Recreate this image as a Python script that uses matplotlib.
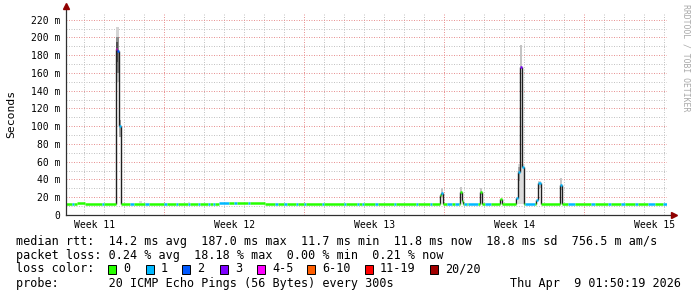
import matplotlib
matplotlib.use("Agg")
from matplotlib import pyplot as plt
from matplotlib.patches import Rectangle

W, H = 697, 297
MONO = "DejaVu Sans Mono"

# x axis: days from left edge of the graph (30 days shown)
x_max = 30.05
week_bounds = [4.9, 11.9, 18.9, 25.9]
day_lines = [0.9, 1.9, 2.9, 3.9, 5.9, 6.9, 7.9, 8.9, 9.9, 10.9, 12.9, 13.9, 14.9,
             15.9, 16.9, 17.9, 19.9, 20.9, 21.9, 22.9, 23.9, 24.9, 26.9, 27.9, 28.9, 29.9]
week_label_pos = [1.45, 8.45, 15.45, 22.45, 29.45]
week_labels = ["Week 11", "Week 12", "Week 13", "Week 14", "Week 15"]

# y axis in ms
y_max = 227.5
y_major = [0, 20, 40, 60, 80, 100, 120, 140, 160, 180, 200, 220]
y_minor = [10, 30, 50, 70, 90, 110, 130, 150, 170, 190, 210]
y_labels = ["0"] + [f"{v} m" for v in y_major[1:]]

# median rtt baseline
base_rtt = 12.3
raised_rtt = 13.3
raised_spans = [(0.55, 0.95), (7.65, 9.95)]
loss1_spans = [(0.30, 0.40), (1.80, 1.90), (3.20, 3.40), (3.95, 4.15), (4.90, 5.05),
               (5.50, 5.60), (6.10, 6.20), (6.60, 6.70), (7.10, 7.20), (7.35, 7.45),
               (7.65, 8.15), (8.40, 8.55), (9.10, 9.20), (10.45, 10.60), (10.90, 11.05),
               (11.50, 11.60), (11.90, 12.00), (12.80, 12.90), (13.90, 14.00), (14.55, 14.65),
               (14.80, 14.90), (15.45, 15.60), (16.40, 16.50), (17.50, 17.60), (18.20, 18.30),
               (19.05, 19.30), (19.45, 19.65), (19.90, 20.05), (20.10, 20.60), (20.95, 21.25),
               (22.95, 23.45), (25.10, 25.45), (26.25, 26.45), (27.10, 27.25), (27.75, 27.95),
               (28.45, 28.60), (29.10, 29.45), (29.85, 30.05)]

# spikes in the median
spike_start = [2.48, 2.53, 2.65, 18.70, 18.75, 19.70, 19.78, 20.70, 21.70,
               22.52, 22.60, 22.70, 22.78, 23.50, 23.58, 24.70]
spike_end = [2.53, 2.65, 2.73, 18.75, 18.87, 19.78, 19.85, 20.78, 21.78,
             22.60, 22.70, 22.78, 22.88, 23.58, 23.73, 24.80]
spike_med = [187, 185, 100, 22, 25, 26, 15.5, 26, 18,
             19, 48, 167, 54, 17, 35.5, 34]
spike_loss = [4, 2, 1, 0, 1, 0, 0, 0, 0,
              1, 1, 3, 1, 1, 1, 1]

# smoke (ping spread)
smoke_start = [2.48, 2.48, 2.50, 2.52, 2.65, 18.75, 19.70, 20.70,
               22.60, 22.62, 22.70, 23.58, 24.70, 3.65, 6.10]
smoke_end = [2.65, 2.65, 2.60, 2.55, 2.75, 18.87, 19.78, 20.78,
             22.88, 22.70, 22.78, 23.73, 24.80, 3.80, 6.20]
smoke_lo = [150, 160, 172, 99, 88, 20, 22, 22,
            12, 38, 167, 30, 28, 13, 13]
smoke_hi = [212, 200, 195, 145, 107, 30, 31, 30,
            58, 54, 192, 38, 42, 16, 15]
smoke_grey = ["#d4d4d4", "#8c8c8c", "#505050", "#e4e4e4", "#a8a8a8", "#c8c8c8", "#c8c8c8", "#c8c8c8",
              "#dcdcdc", "#a8a8a8", "#c4c4c4", "#d0d0d0", "#c8c8c8", "#dcdcdc", "#e4e4e4"]

loss_colors = ["#26ff00", "#00b8ff", "#0059ff", "#7e00ff", "#ff00ff", "#ff5e00", "#ff0000", "#a10000"]
loss_names = ["0", "1", "2", "3", "4-5", "6-10", "11-19", "20/20"]
loss_sq_x = [108, 146, 182, 220, 257, 307, 365, 430]

stats_line = "median rtt:  14.2 ms avg  187.0 ms max  11.7 ms min  11.8 ms now  18.8 ms sd  756.5 m am/s"
loss_line = "packet loss: 0.24 % avg  18.18 % max  0.00 % min  0.21 % now"
probe_line = "probe:       20 ICMP Echo Pings (56 Bytes) every 300s"
date_text = "Thu Apr  9 01:50:19 2026"


def build_median():
    edges = {0.0, x_max}
    for a, b in raised_spans + loss1_spans:
        edges |= {a, b}
    for a, b in zip(spike_start, spike_end):
        edges |= {a, b}
    edges = sorted(edges)
    segs = []
    for a, b in zip(edges[:-1], edges[1:]):
        mid = (a + b) / 2
        val, loss = base_rtt, 0
        if any(s <= mid < e for s, e in raised_spans):
            val = raised_rtt
        if any(s <= mid < e for s, e in loss1_spans):
            loss = 1
        for s, e, m, l in zip(spike_start, spike_end, spike_med, spike_loss):
            if s <= mid < e:
                val, loss = m, l
        segs.append((a, b, val, loss))
    return segs


fig = plt.figure(figsize=(W / 100, H / 100), dpi=100)
ax = fig.add_axes([66 / W, 82 / H, 601 / W, 202 / H])
ax.set_xlim(0, x_max)
ax.set_ylim(0, y_max)
for s in ax.spines.values():
    s.set_visible(False)

# grid, 1px dots
grid_kw = dict(lw=0.72, ls=(0, (1, 1.5)))
for v in y_minor:
    ax.axhline(v, color="#c4c4c4", zorder=0, **grid_kw)
for v in day_lines:
    ax.axvline(v, color="#c4c4c4", zorder=0, **grid_kw)
for v in y_major[1:]:
    ax.axhline(v, color="#e89494", zorder=0.5, **grid_kw)
for v in week_bounds:
    ax.axvline(v, color="#e89494", zorder=0.5, **grid_kw)

# smoke
ax.bar(smoke_start, [h - l for l, h in zip(smoke_lo, smoke_hi)],
       width=[e - s for s, e in zip(smoke_start, smoke_end)], bottom=smoke_lo,
       align="edge", color=smoke_grey, linewidth=0, zorder=1)

# median line
segs = build_median()
for a, b, v, l in segs:
    ax.hlines(v, a, b, colors=loss_colors[l], lw=1.8, zorder=3)
for prev, cur in zip(segs[:-1], segs[1:]):
    if abs(cur[2] - prev[2]) > 1.5:
        ax.vlines(cur[0], min(prev[2], cur[2]), max(prev[2], cur[2]), colors="#202020", lw=1.0, zorder=2)

# axes with arrows
ax.plot([0, 0], [0, 1 + 6 / 202], color="#303030", lw=0.9, transform=ax.transAxes, clip_on=False, zorder=4)
ax.plot([0, 1 + 6 / 601], [0, 0], color="#303030", lw=0.9, transform=ax.transAxes, clip_on=False, zorder=4)
ax.plot([0], [1 + 7 / 202], marker="^", ms=4, color="#900000", transform=ax.transAxes, clip_on=False, zorder=5)
ax.plot([1 + 7 / 601], [0], marker=">", ms=4, color="#900000", transform=ax.transAxes, clip_on=False, zorder=5)

ax.set_yticks(y_major)
ax.set_yticklabels(y_labels, fontsize=7, family=MONO)
ax.set_xticks(week_label_pos)
ax.set_xticklabels(week_labels, fontsize=7, family=MONO)
ax.tick_params(axis="y", length=0, pad=4.3)
ax.tick_params(axis="x", length=0, pad=3.5)

fig.text(11 / W, 1 - 114 / H, "Seconds", rotation=90, ha="center", va="center", fontsize=8.2, family=MONO)
fig.text(686 / W, 1 - 4 / H, "RRDTOOL / TOBI OETIKER", rotation=270, ha="center", va="top",
         fontsize=5.9, family=MONO, color="#a8a8a8")

# legend
fig.text(16 / W, 1 - 241 / H, stats_line, ha="left", va="center", fontsize=8.5, family=MONO)
fig.text(16 / W, 1 - 255 / H, loss_line, ha="left", va="center", fontsize=8.5, family=MONO)
fig.text(16 / W, 1 - 269 / H, "loss color:", ha="left", va="center", fontsize=8.5, family=MONO)
for x, c, name in zip(loss_sq_x, loss_colors, loss_names):
    fig.patches.append(Rectangle((x / W, 1 - 273.5 / H), 8 / W, 9 / H, transform=fig.transFigure,
                                 facecolor=c, edgecolor="black", lw=0.7))
    fig.text((x + 15) / W, 1 - 269 / H, name, ha="left", va="center", fontsize=8.5, family=MONO)
fig.text(16 / W, 1 - 284 / H, probe_line, ha="left", va="center", fontsize=8.5, family=MONO)
fig.text(681 / W, 1 - 284 / H, date_text, ha="right", va="center", fontsize=8.5, family=MONO)

fig.savefig("out.png", dpi=100)
